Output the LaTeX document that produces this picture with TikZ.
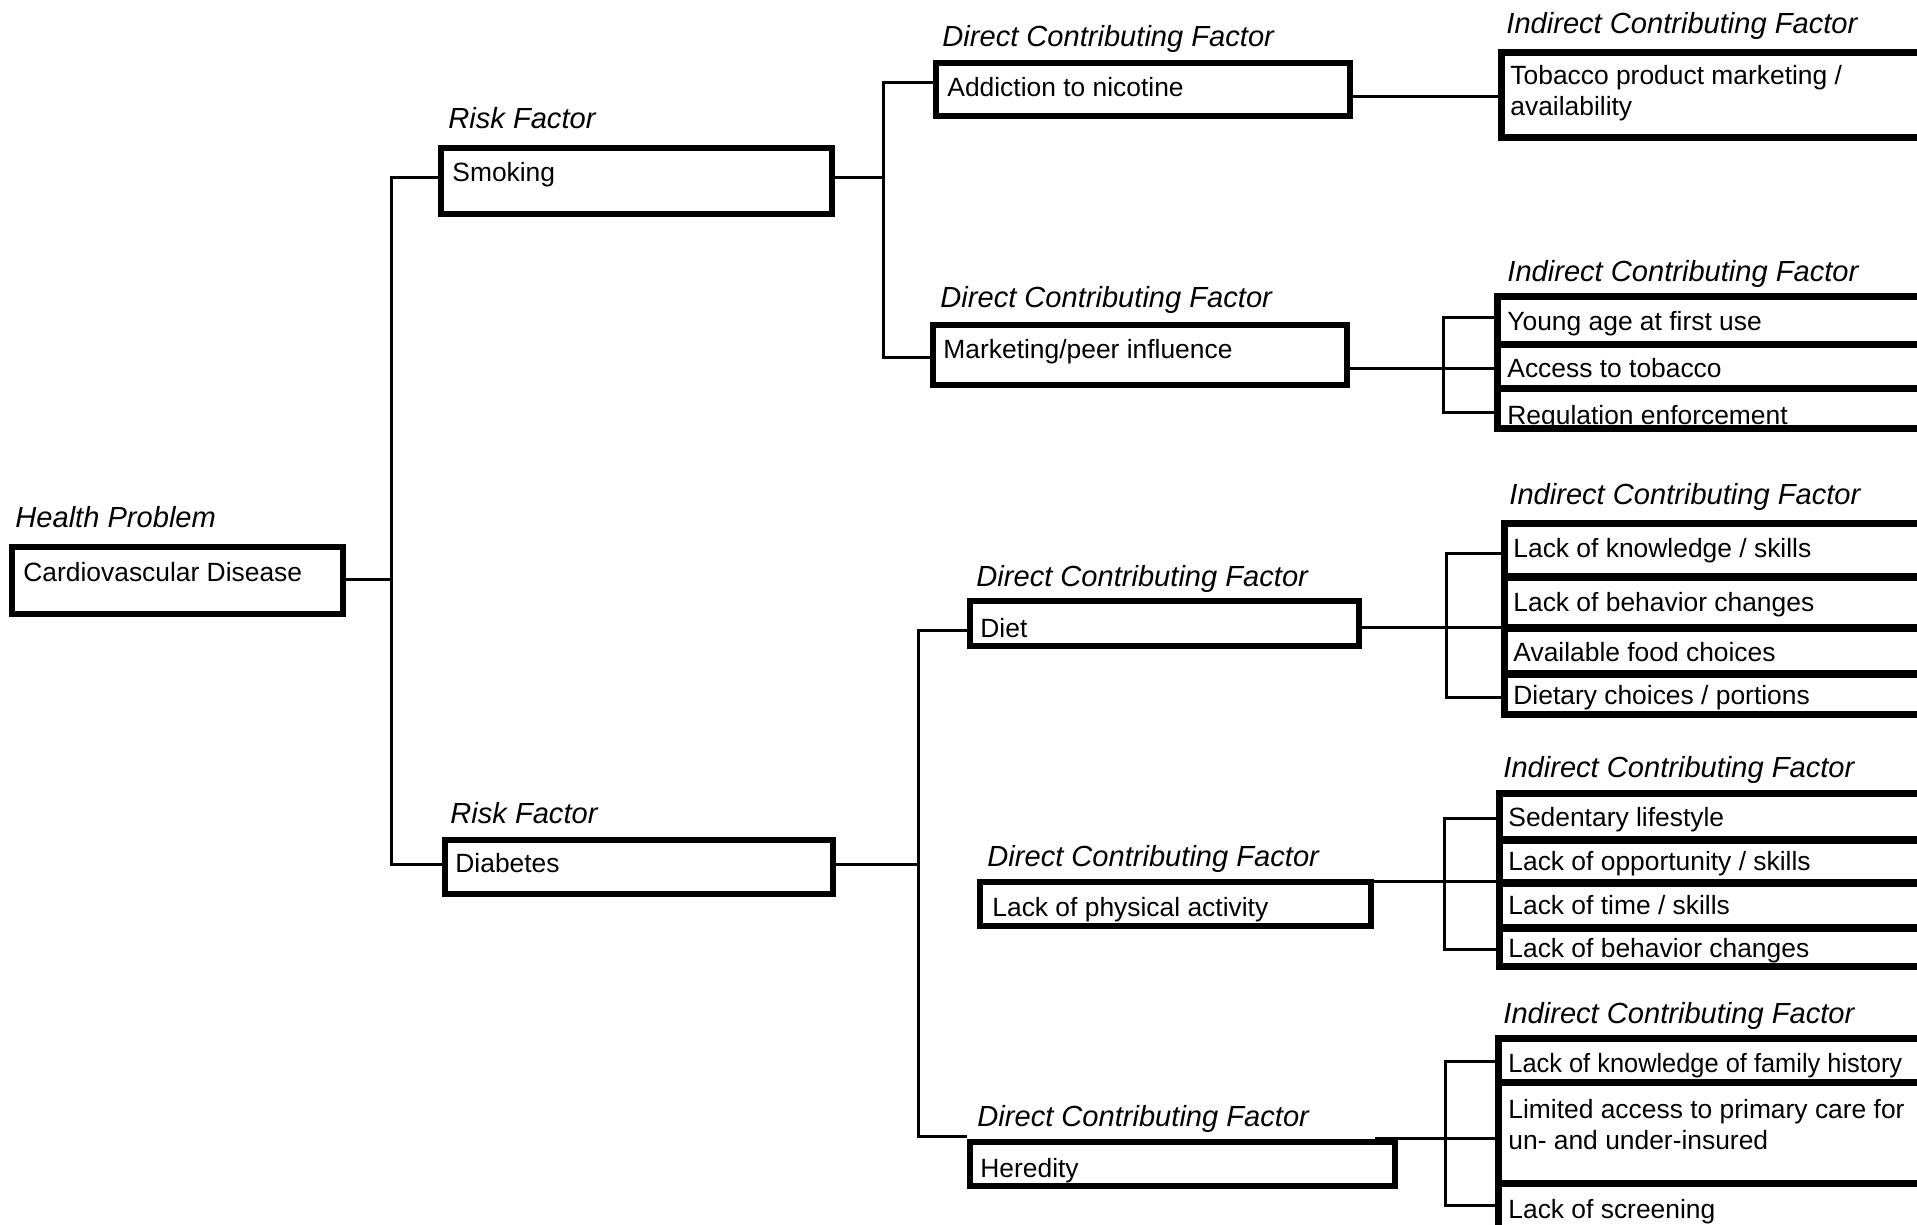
\documentclass[tikz,border=0pt]{standalone}
\usepackage{fontspec}
\setmainfont{Liberation Sans}
\newcommand\boxtxt{\fontsize{13.2}{15.5}\selectfont}
\newcommand\labtxt{\fontsize{14.55}{17}\selectfont\itshape}
% outer box: name, x1, y1, x2, y2 (pixels, y down)
\newcommand\mkbox[5]{\node[boxshape, anchor=north west, minimum width={0.5pt*(#4-#2)-3.2pt}, minimum height={0.5pt*(#5-#3)-3.2pt}] (#1) at (#2,#3) {};}
\newcommand\mkcell[5]{\node[cellshape, anchor=north west, minimum width={0.5pt*(#4-#2)-3.4pt}, minimum height={0.5pt*(#5-#3)-3.4pt}] (#1) at (#2,#3) {};}
\begin{document}
\begin{tikzpicture}[x=0.5pt,y=-0.5pt,
  boxshape/.style={draw, line width=3.2pt, rectangle, inner sep=0pt},
  cellshape/.style={draw, line width=3.4pt, rectangle, inner sep=0pt},
  conn/.style={line width=1.5pt},
  lab/.style={font=\labtxt, anchor=base west, inner sep=0pt},
  txt/.style={font=\boxtxt, anchor=base west, inner sep=0pt},
]
\useasboundingbox (0,0) rectangle (1917,1225);
\fill[white] (0,0) rectangle (1917,1225);
\clip (0,0) rectangle (1917,1225);

% ---------- labels ----------
\node[lab] (lHP) at (15,527) {Health Problem};
\node[lab] (lRF1) at (448,129) {Risk Factor};
\node[lab] (lRF2) at (450,823) {Risk Factor};
\node[lab] (lD1) at (942,47) {Direct Contributing Factor};
\node[lab] (lD2) at (940,307) {Direct Contributing Factor};
\node[lab] (lD3) at (976,586) {Direct Contributing Factor};
\node[lab] (lD4) at (987,866) {Direct Contributing Factor};
\node[lab] (lD5) at (977,1126) {Direct Contributing Factor};
\node[lab] (lI1) at (1506,34) {Indirect Contributing Factor};
\node[lab] (lI2) at (1507,282) {Indirect Contributing Factor};
\node[lab] (lI3) at (1509,504) {Indirect Contributing Factor};
\node[lab] (lI4) at (1503,777) {Indirect Contributing Factor};
\node[lab] (lI5) at (1503,1023) {Indirect Contributing Factor};

% ---------- box texts ----------
\node[txt] (tcvd) at (23,581) {Cardiovascular Disease};
\node[txt] (tsmk) at (452,182) {Smoking};
\node[txt] (tdia) at (455,872) {Diabetes};
\node[txt] (tadd) at (947,97) {Addiction to nicotine};
\node[txt] (tmkt) at (943,358) {Marketing/peer influence};
\node[txt] (tdiet) at (980,637) {Diet};
\node[txt] (tphy) at (992,916) {Lack of physical activity};
\node[txt] (ther) at (980,1177) {Heredity};
\node[txt] (ttob) at (1510,85) {\parbox[t]{400pt}{Tobacco product marketing /\\availability}};
\node[txt] (tm1) at (1507,330) {Young age at first use};
\node[txt] (tm2) at (1507,378) {Access to tobacco};
\node[txt] (tm3) at (1507,424) {Regulation enforcement};
\node[txt] (td1) at (1513,557) {Lack of knowledge / skills};
\node[txt] (td2) at (1513,611) {Lack of behavior changes};
\node[txt] (td3) at (1513,661) {Available food choices};
\node[txt] (td4) at (1513,704) {Dietary choices / portions};
\node[txt] (tp1) at (1508,826) {Sedentary lifestyle};
\node[txt] (tp2) at (1508,870) {Lack of opportunity / skills};
\node[txt] (tp3) at (1508,914) {Lack of time / skills};
\node[txt] (tp4) at (1508,957) {Lack of behavior changes};
\node[txt] (th1) at (1508,1072) {\scalebox{0.962}[1]{Lack of knowledge of family history}};
\node[txt] (th2) at (1508,1118) {\parbox[t]{400pt}{Limited access to primary care for\\un- and under-insured}};
\node[txt] (th3) at (1508,1218) {Lack of screening};

% ---------- boxes ----------
\mkbox{cvd}{9}{544}{346}{617}
\mkbox{smoking}{438}{145}{835}{217}
\mkbox{diabetes}{442}{837}{836}{897}
\mkbox{addiction}{933}{60}{1353}{119}
\mkbox{marketing}{930}{322}{1350}{388}
\mkbox{diet}{967}{598}{1362}{649}
\mkbox{physical}{977}{879}{1374}{929}
\mkbox{heredity}{967}{1139}{1398}{1189}

\mkcell{tob}{1498}{49}{1950}{141}
\mkcell{mc1}{1494}{293}{1950}{348}
\mkcell{mc2}{1494}{341}{1950}{392}
\mkcell{mc3}{1494}{385}{1950}{432}
\mkcell{dc1}{1501}{520}{1950}{580}
\mkcell{dc2}{1501}{574}{1950}{631}
\mkcell{dc3}{1501}{625}{1950}{677}
\mkcell{dc4}{1501}{671}{1950}{718}
\mkcell{pc1}{1496}{790}{1950}{843}
\mkcell{pc2}{1496}{837}{1950}{886}
\mkcell{pc3}{1496}{880}{1950}{931}
\mkcell{pc4}{1496}{925}{1950}{970}
\mkcell{hc1}{1495}{1035}{1950}{1086}
\mkcell{hc2}{1495}{1079}{1950}{1187}
\mkcell{hc3}{1495}{1180}{1950}{1260}

% ---------- connectors ----------
\coordinate (jA) at (391,579);
\coordinate (jS) at (391,178);
\coordinate (jD) at (391,864);
\draw[conn] (cvd.east|-jA) -- (jA);
\draw[conn] (smoking.west|-jS) -- (jS) -- (jD) -- (diabetes.west|-jD);

\coordinate (ks) at (883,178);
\coordinate (k1) at (883,83);
\coordinate (k2) at (883,357);
\draw[conn] (smoking.east|-ks) -- (ks);
\draw[conn] (addiction.west|-k1) -- (k1) -- (k2) -- (marketing.west|-k2);

\coordinate (ya) at (1400,97);
\draw[conn] (addiction.east|-ya) -- (tob.west|-ya);

\coordinate (m0) at (1443,368);
\coordinate (mb1) at (1443,318);
\coordinate (mb3) at (1443,412);
\draw[conn] (marketing.east|-m0) -- (mc2.west|-m0);
\draw[conn] (mc1.west|-mb1) -- (mb1) -- (mb3) -- (mc3.west|-mb3);

\coordinate (d1) at (918,630);
\coordinate (d2) at (918,864);
\coordinate (d3) at (918,1136);
\draw[conn] (diabetes.east|-d2) -- (d2);
\draw[conn] (diet.west|-d1) -- (d1) -- (d3) -- (heredity.west|-d3);

\coordinate (dr) at (1446,627);
\coordinate (db1) at (1446,553);
\coordinate (db4) at (1446,697);
\draw[conn] (diet.east|-dr) -- (dc1.west|-dr);
\draw[conn] (dc1.west|-db1) -- (db1) -- (db4) -- (dc4.west|-db4);

\coordinate (pr) at (1444,881);
\coordinate (pb1) at (1444,818);
\coordinate (pb4) at (1444,949);
\draw[conn] (physical.east|-pr) -- (pc1.west|-pr);
\draw[conn] (pc1.west|-pb1) -- (pb1) -- (pb4) -- (pc4.west|-pb4);

\coordinate (hs) at (1375,1138);
\coordinate (hb1) at (1445,1061);
\coordinate (hb3) at (1445,1205);
\draw[conn] (hs) -- (hc1.west|-hs);
\draw[conn] (hc1.west|-hb1) -- (hb1) -- (hb3) -- (hc3.west|-hb3);
\end{tikzpicture}
\end{document}
